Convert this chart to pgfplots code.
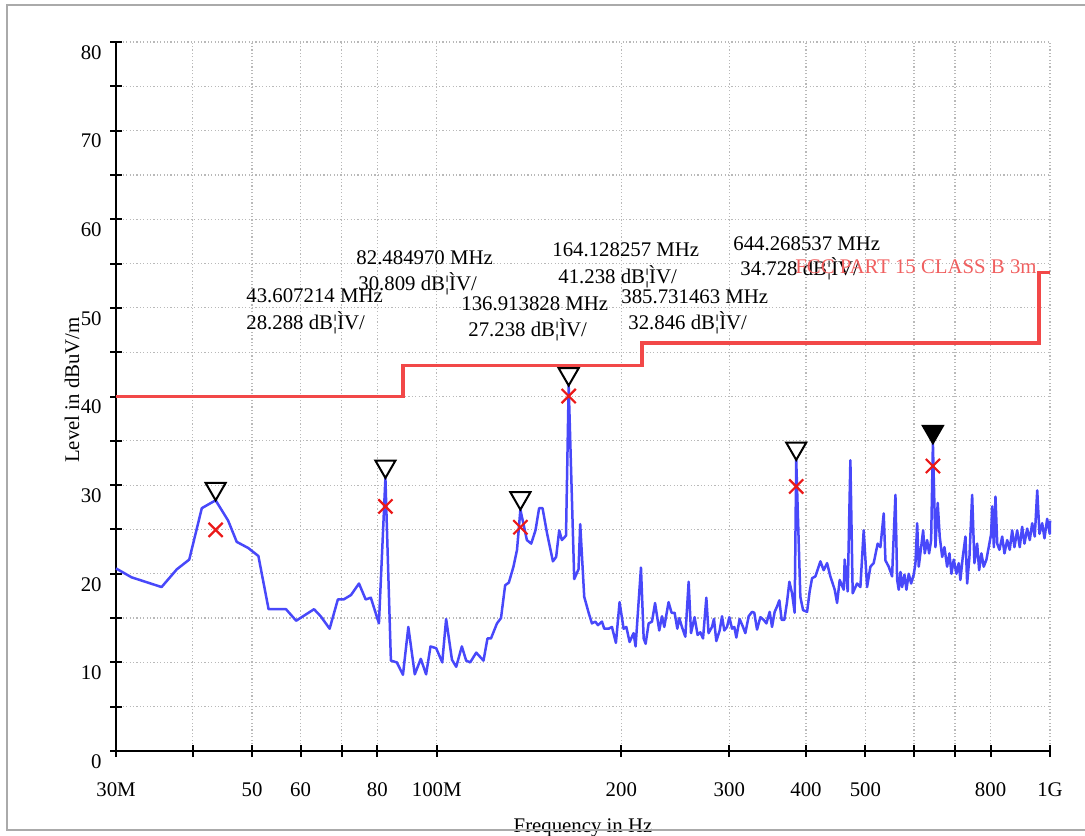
\documentclass[border=0pt]{standalone}
\usepackage{fontspec}
\setmainfont{Liberation Serif}
\usepackage{pgfplots}
\usepackage{pgfplotstable}
\pgfplotsset{compat=1.18}

\definecolor{trace}{RGB}{72,72,250}
\definecolor{limit}{RGB}{242,72,72}
\definecolor{limittext}{RGB}{240,95,95}
\definecolor{qp}{RGB}{235,25,25}
\definecolor{gridgray}{RGB}{185,185,185}
\definecolor{framegray}{RGB}{170,170,170}

% peak trace, MHz vs dBuV/m
\pgfplotstableread{
f lvl
30.0 20.6
31.8 19.6
35.6 18.5
37.7 20.5
39.5 21.6
41.4 27.4
43.607 28.288
45.7 26.0
47.2 23.6
49.3 22.9
51.2 22.0
53.2 16.0
56.8 16.0
59.0 14.7
63.1 16.0
64.7 15.2
66.9 13.8
69.0 17.1
70.5 17.1
72.5 17.6
74.7 18.9
76.6 17.1
78.1 17.3
80.5 14.4
82.485 30.809
84.2 10.2
86.1 10.0
88.1 8.6
89.9 14.0
92.1 8.65
94.2 10.4
96.1 8.65
97.7 11.8
99.8 11.6
102.1 10.0
103.6 14.9
105.9 10.3
107.6 9.5
109.9 11.8
111.7 10.2
113.4 10.0
116.0 11.1
119.2 10.2
121.0 12.7
122.6 12.7
125.4 14.4
127.3 15.0
129.3 18.7
131.1 19.0
133.4 20.8
135.2 22.7
136.914 27.238
140.3 23.8
142.6 23.4
144.9 24.9
146.9 27.4
148.8 27.4
151.3 24.6
154.7 21.4
156.6 21.9
158.4 24.9
160.0 23.8
162.5 24.3
164.128 41.238
167.6 19.4
170.3 20.5
171.4 25.6
174.0 17.4
176.9 15.6
179.1 14.4
181.4 14.6
183.2 14.2
186.0 14.6
187.6 13.8
190.7 13.8
193.1 14.0
196.0 12.2
198.7 16.8
201.7 13.8
203.8 14.0
206.3 12.3
209.4 13.3
211.0 11.8
215.3 20.7
217.5 12.7
219.1 12.1
221.6 14.4
224.4 14.6
227.0 16.7
230.6 13.6
233.0 15.2
235.0 14.0
238.8 16.8
241.5 15.6
244.3 15.6
246.8 13.8
248.6 15.0
251.1 14.0
254.3 12.9
257.5 19.1
259.8 13.3
263.3 15.1
266.3 13.1
269.0 13.4
271.8 12.7
275.2 17.3
277.5 13.3
281.1 14.0
283.2 14.9
285.7 12.4
289.3 13.6
291.9 15.2
294.4 13.6
297.4 14.0
300.0 15.1
303.1 13.8
305.7 14.0
308.0 12.8
311.8 14.9
315.4 14.1
318.6 13.3
322.6 15.2
326.7 15.7
329.5 15.6
332.9 13.7
337.1 15.1
341.3 14.8
344.8 14.4
349.1 15.7
352.2 14.0
355.7 15.7
358.9 16.3
362.0 17.0
365.1 14.8
368.9 14.8
372.6 16.8
375.9 19.1
379.7 17.8
383.4 15.6
385.731 32.846
391.7 17.4
395.7 15.9
401.7 15.7
405.6 18.0
409.3 19.5
414.4 19.7
422.3 21.4
427.5 20.4
433.0 21.2
438.4 19.7
445.6 18.2
449.6 16.7
454.0 19.3
460.9 18.2
462.6 21.6
467.9 18.0
472.6 32.8
476.7 17.8
484.6 18.9
490.7 18.5
496.8 24.9
503.2 18.5
509.5 20.8
515.8 21.2
523.6 23.4
529.0 23.0
535.6 26.8
539.1 21.5
545.8 20.8
552.8 19.7
554.1 21.7
559.7 28.9
563.3 19.3
566.7 18.2
570.4 20.2
573.9 18.5
579.0 19.9
583.3 18.2
588.4 20.0
593.7 18.9
599.5 19.9
603.4 21.2
607.3 25.7
610.9 20.8
616.4 23.0
621.1 24.9
624.8 22.3
630.5 23.8
635.2 22.3
640.0 23.8
644.269 34.728
650.4 23.0
656.0 28.0
661.0 24.2
667.1 21.9
672.8 23.0
679.6 20.8
685.5 22.3
690.7 20.0
696.8 21.6
703.8 20.0
709.9 21.2
714.4 19.3
720.7 21.9
728.1 24.2
732.7 18.9
739.0 21.9
746.6 28.9
753.0 21.2
760.7 23.4
766.4 20.4
773.1 22.3
779.8 20.8
787.7 21.6
794.5 23.0
801.7 24.5
804.7 27.6
809.9 23.0
814.8 28.7
820.2 23.4
827.1 22.7
835.6 24.2
842.8 22.3
851.4 23.8
859.7 22.7
867.5 24.9
875.0 23.0
884.0 24.9
892.6 23.0
900.7 25.3
908.5 23.4
917.8 25.1
926.8 23.8
935.2 25.7
944.3 24.2
953.1 29.4
961.2 24.5
971.0 25.7
979.4 24.0
989.3 26.2
999.1 24.5
1000 26.0
}\trace

\begin{document}
\begin{tikzpicture}[font=\fontsize{10.4}{12.5}\selectfont]
\useasboundingbox (-58pt,-42pt) rectangle (484.5pt,375.5pt);
\begin{axis}[
  at={(0,0)}, anchor=south west,
  scale only axis, width=467pt, height=354.5pt,
  xmode=log, xmin=30, xmax=1000, ymin=0, ymax=80,
  axis lines*=left,
  axis line style={line width=1.2pt, black},
  clip=false,
  xtick={30,40,50,60,70,80,100,200,300,400,500,600,700,800,1000},
  xticklabels={30M,{},50,60,{},80,100M,200,300,400,500,{},{},800,1G},
  minor xtick={},
  ytick={0,10,20,30,40,50,60,70,80},
  yticklabels={0,10,20,30,40,50,60,70,80},
  minor ytick={5,15,25,35,45,55,65,75},
  tick align=center,
  major tick length=6pt, minor tick length=6pt,
  every tick/.style={black, line width=1pt},
  minor tick style={black, line width=1pt},
  grid=both,
  major grid style={gridgray, line width=0.6pt, dash pattern=on 0.6pt off 1.1pt},
  minor grid style={gridgray, line width=0.6pt, dash pattern=on 0.6pt off 1.1pt},
  xticklabel style={anchor=base, yshift=-19.5pt},
  yticklabel style={anchor=east, inner sep=0pt, xshift=-4pt, yshift=-5.25pt},
]
% limit line
\addplot[limit, line width=1.9pt, line join=miter] coordinates {
  (30,40) (88,40) (88,43.5) (216,43.5) (216,46) (960,46) (960,54) (1000,54)};
% measured trace
\addplot[trace, line width=1.25pt, line join=round] table[x=f, y=lvl] {\trace};
% quasi-peak results
\addplot[only marks, mark=x, mark size=5pt, mark options={qp, line width=1.1pt}]
  coordinates {(43.607,24.95) (82.485,27.6) (136.914,25.25) (164.128,40.05) (385.731,29.85) (644.269,32.16)};
% peak markers
\addplot[only marks, mark=triangle, mark size=5.8pt,
  mark options={black, line width=1pt, yshift=5.8pt, rotate=180}]
  coordinates {(43.607,28.288) (82.485,30.809) (136.914,27.238) (164.128,41.238) (385.731,32.846)};
\addplot[only marks, mark=triangle*, mark size=5.8pt,
  mark options={black, fill=black, line width=1pt, yshift=5.8pt, rotate=180}]
  coordinates {(644.269,34.728)};

\begin{scope}[every node/.style={anchor=base west, inner sep=0pt}]
\node at (rel axis cs:0.1392,0.6319) {43.607214 MHz};
\node at (rel axis cs:0.1392,0.5952) {28.288 dB¦ÌV/};
\node at (rel axis cs:0.2570,0.6855) {82.484970 MHz};
\node at (rel axis cs:0.2591,0.6502) {30.809 dB¦ÌV/};
\node at (rel axis cs:0.3694,0.6220) {136.913828 MHz};
\node at (rel axis cs:0.3769,0.5853) {27.238 dB¦ÌV/};
\node at (rel axis cs:0.4668,0.6968) {164.128257 MHz};
\node at (rel axis cs:0.4732,0.6601) {41.238 dB¦ÌV/};
\node at (rel axis cs:0.5407,0.6305) {385.731463 MHz};
\node at (rel axis cs:0.5482,0.5952) {32.846 dB¦ÌV/};
\node at (rel axis cs:0.6606,0.7066) {644.268537 MHz};
\node at (rel axis cs:0.6681,0.6700) {34.728 dB¦ÌV/};
\end{scope}
\node[anchor=base east, text=limittext, inner sep=0pt] at (rel axis cs:0.9861,0.6728) {FCC PART 15 CLASS B 3m};

\node[anchor=base, rotate=90] at (rel axis cs:-0.0396,0.509) {Level in dBuV/m};
\node[anchor=base] at (rel axis cs:0.5,-0.1155) {Frequency in Hz};
\end{axis}
\draw[framegray, line width=1.3pt] (490pt,373pt) -- (-54.5pt,373pt) -- (-54.5pt,-39.5pt) -- (490pt,-39.5pt);
\end{tikzpicture}
\end{document}
